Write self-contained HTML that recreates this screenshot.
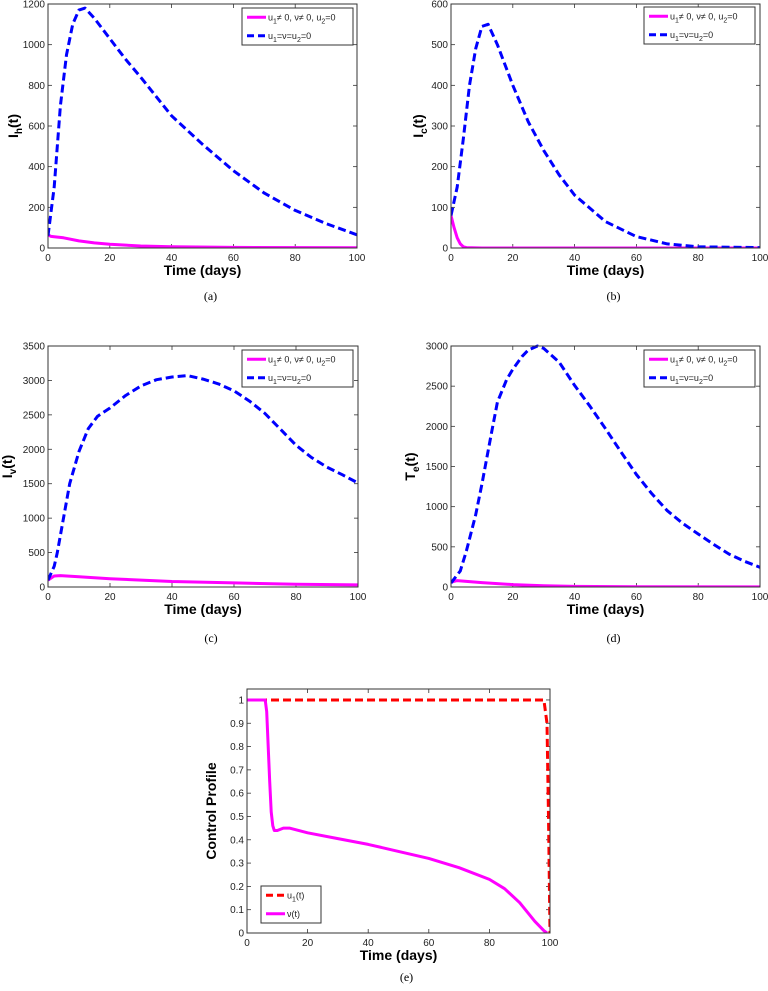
<!DOCTYPE html>
<html><head><meta charset="utf-8"><style>
html,body{margin:0;padding:0;background:#fff;}
svg{display:block;font-family:"Liberation Sans",sans-serif;}
</style></head><body>
<svg id="fig" width="768" height="991" viewBox="0 0 768 991" xmlns="http://www.w3.org/2000/svg"></svg>
<script>
// ---- data ----
const aBlueT=[0,2,4,6,8,10,12,15,20,25,30,40,50,60,70,80,90,100];
const aBlueV=[60,300,700,950,1100,1170,1180,1130,1030,930,840,650,510,380,270,185,120,65];
const aMagT=[0,1,2,5,10,15,20,30,40,60,100];
const aMagV=[65,57,55,50,35,25,18,10,6,3,1];
const bBlueT=[0,2,4,6,8,10,12,15,20,25,30,35,40,50,60,70,80,90,100];
const bBlueV=[80,150,270,400,490,545,550,500,400,310,240,180,130,65,28,10,3,2,1];
const bMagT=[0,1,2,3,4,5,10,100];
const bMagV=[80,50,25,10,3,1,0,0];
const cBlueT=[0,2,3,5,7,10,13,16,20,25,30,35,40,45,50,55,60,65,70,75,80,85,90,95,100];
const cBlueV=[100,300,500,1000,1500,1970,2300,2480,2600,2780,2920,3010,3050,3070,3020,2950,2850,2700,2520,2290,2060,1880,1740,1630,1510];
const cMagT=[0,2,4,10,20,30,40,60,80,100];
const cMagV=[100,160,165,150,120,100,80,60,40,30];
const dBlueT=[0,3,5,8,10,13,15,18,20,23,25,28,30,35,40,45,50,55,60,65,70,75,80,85,90,95,100];
const dBlueV=[50,200,450,900,1280,1900,2300,2580,2710,2870,2950,3000,2970,2800,2510,2250,1970,1680,1400,1160,950,790,660,530,410,320,245];
const dMagT=[0,2,5,10,20,30,40,60,100];
const dMagV=[60,80,70,55,30,15,8,3,1];
const eVT=[0,6,6.5,7,7.5,8,8.5,9,10,12,14,20,30,40,50,60,70,80,85,90,95,98,99];
const eVV=[1,1,0.95,0.8,0.65,0.52,0.46,0.44,0.44,0.45,0.45,0.43,0.405,0.38,0.35,0.32,0.28,0.23,0.19,0.13,0.05,0.01,0];
const eUT=[0,98,99,99.5,100];
const eUV=[1,1,0.9,0.5,0];
const xTicks=[0,20,40,60,80,100];
const aYTicks=[0,200,400,600,800,1000,1200];
const bYTicks=[0,100,200,300,400,500,600];
const cYTicks=[0,500,1000,1500,2000,2500,3000,3500];
const dYTicks=[0,500,1000,1500,2000,2500,3000];
const eYTicks=[0,0.1,0.2,0.3,0.4,0.5,0.6,0.7,0.8,0.9,1];
const eYLabels=["0","0.1","0.2","0.3","0.4","0.5","0.6","0.7","0.8","0.9","1"];

const NS="http://www.w3.org/2000/svg";
const svg=document.getElementById('fig');
function mk(tag,attrs,parent){const e=document.createElementNS(NS,tag);for(const k in attrs)e.setAttribute(k,attrs[k]);(parent||svg).appendChild(e);return e;}

function panel(p){
  const g=mk('g',{});
  
  
  const sx=t=>p.x0+(t-p.xmin)/(p.xmax-p.xmin)*(p.x1-p.x0);
  const sy=v=>p.y1-(v-p.ymin)/(p.ymax-p.ymin)*(p.y1-p.y0);
  // ticks
  xTicks.forEach(t=>{
    const X=sx(t);
    mk('line',{x1:X,x2:X,y1:p.y1,y2:p.y1-4,stroke:'#333','stroke-width':0.8},g);
    mk('line',{x1:X,x2:X,y1:p.y0,y2:p.y0+4,stroke:'#333','stroke-width':0.8},g);
    const tx=mk('text',{x:X,y:p.y1+13,'font-size':10,'text-anchor':'middle',fill:'#222'},g);
    tx.textContent=t;
    
    
  });
  p.yTicks.forEach((v,i)=>{
    const Y=sy(v);
    mk('line',{x1:p.x0,x2:p.x0+4,y1:Y,y2:Y,stroke:'#333','stroke-width':0.8},g);
    mk('line',{x1:p.x1,x2:p.x1-4,y1:Y,y2:Y,stroke:'#333','stroke-width':0.8},g);
    const tx=mk('text',{x:p.x0-3,y:Y+3.5,'font-size':10,'text-anchor':'end',fill:'#222'},g);
    tx.textContent=p.yLabels?p.yLabels[i]:v;
    
    
  });
  // clip
  const cid='clip'+p.name;
  const cp=mk('clipPath',{id:cid},g);mk('rect',{x:p.x0,y:p.y0-2,width:p.x1-p.x0,height:p.y1-p.y0+2},cp);
  p.series.forEach(s=>{
    const d=s.t.map((t,i)=>(i?'L':'M')+sx(t).toFixed(1)+','+sy(s.v[i]).toFixed(1)).join('');
    const path=mk('path',{d:d,fill:'none',stroke:s.color,'stroke-width':3,'stroke-dasharray':s.dash||'none','clip-path':'url(#'+cid+')','stroke-linejoin':'round'},g);
    
    
  });
  const fr=mk('rect',{x:p.x0,y:p.y0,width:p.x1-p.x0,height:p.y1-p.y0,fill:'none',stroke:'#333','stroke-width':1},g);
  
  
  // x title
  const xt=mk('text',{x:(p.x0+p.x1)/2,y:p.y1+27,'font-size':14,'font-weight':'bold','text-anchor':'middle',fill:'#000'},g);
  xt.textContent='Time (days)';
  
  
  const yt=mk('text',{x:0,y:0,'font-size':14,'font-weight':'bold','text-anchor':'middle',fill:'#000',transform:`translate(${p.yTitleX},${(p.y0+p.y1)/2}) rotate(-90)`},g);
  yt.innerHTML=p.yTitle;
  
  
  const cap=mk('text',{x:(p.x0+p.x1)/2+8,y:p.capY,'font-size':12,'text-anchor':'middle','font-family':'Liberation Serif, serif',fill:'#000'},g);
  cap.textContent=p.caption;
  
  
  // legend
  const L=p.legend;
  const lg=mk('g',{},g);
  
  
  mk('rect',{x:L.x,y:L.y,width:L.w,height:L.h,fill:'#fff',stroke:'#333','stroke-width':1},lg);
  L.items.forEach((it,i)=>{
    const Y=L.y+L.h*(i+0.5)/L.items.length;
    mk('line',{x1:L.x+5,x2:L.x+24,y1:Y,y2:Y,stroke:it.color,'stroke-width':3,'stroke-dasharray':it.dash||'none'},lg);
    const tx=mk('text',{x:L.x+26,y:Y+3,'font-size':9,fill:'#222'},lg);
    tx.innerHTML=it.label;
    
    
  });
}
const L1='u<tspan font-size="7" dy="3">1</tspan><tspan dy="-3">≠ 0, ν≠ 0, u</tspan><tspan font-size="7" dy="3">2</tspan><tspan dy="-3">=0</tspan>';
const L2='u<tspan font-size="7" dy="3">1</tspan><tspan dy="-3">=ν=u</tspan><tspan font-size="7" dy="3">2</tspan><tspan dy="-3">=0</tspan>';
function leg(x,y){return {x:x,y:y,w:111,h:37,items:[{color:'#ff00ff',label:L1},{color:'#0000ff',dash:'7 4',label:L2}]};}
function ytitle(a,b){return a+'<tspan font-size="10" dy="4">'+b+'</tspan><tspan dy="-4">(t)</tspan>';}

panel({name:'panel-a',x0:48,x1:357,y0:4,y1:248,xmin:0,xmax:100,ymin:0,ymax:1200,yTicks:aYTicks,yTitle:ytitle('I','h'),yTitleX:18,caption:'(a)',capY:300,legend:leg(242,8),
 series:[{name:'magenta-line-a',t:aMagT,v:aMagV,color:'#ff00ff'},{name:'blue-dashed-a',t:aBlueT,v:aBlueV,color:'#0000ff',dash:'8 4'}]});
panel({name:'panel-b',x0:451,x1:760,y0:4,y1:248,xmin:0,xmax:100,ymin:0,ymax:600,yTicks:bYTicks,yTitle:ytitle('I','c'),yTitleX:423,caption:'(b)',capY:300,legend:leg(644,7),
 series:[{name:'magenta-line-b',t:bMagT,v:bMagV,color:'#ff00ff'},{name:'blue-dashed-b',t:bBlueT,v:bBlueV,color:'#0000ff',dash:'8 4'}]});
panel({name:'panel-c',x0:48,x1:358,y0:346,y1:587,xmin:0,xmax:100,ymin:0,ymax:3500,yTicks:cYTicks,yTitle:ytitle('I','v'),yTitleX:12,caption:'(c)',capY:642,legend:leg(242,350),
 series:[{name:'magenta-line-c',t:cMagT,v:cMagV,color:'#ff00ff'},{name:'blue-dashed-c',t:cBlueT,v:cBlueV,color:'#0000ff',dash:'8 4'}]});
panel({name:'panel-d',x0:451,x1:760,y0:346,y1:587,xmin:0,xmax:100,ymin:0,ymax:3000,yTicks:dYTicks,yTitle:ytitle('T','e'),yTitleX:415,caption:'(d)',capY:642,legend:leg(644,350),
 series:[{name:'magenta-line-d',t:dMagT,v:dMagV,color:'#ff00ff'},{name:'blue-dashed-d',t:dBlueT,v:dBlueV,color:'#0000ff',dash:'8 4'}]});
panel({name:'panel-e',x0:247,x1:550,y0:689,y1:933,xmin:0,xmax:100,ymin:0,ymax:1.047,yTicks:eYTicks,yLabels:eYLabels,yTitle:'Control Profile',yTitleX:216,caption:'(e)',capY:981,
 legend:{x:261,y:886,w:60,h:37,items:[{color:'#ff0000',dash:'7 4',label:'u<tspan font-size="7" dy="3">1</tspan><tspan dy="-3">(t)</tspan>'},{color:'#ff00ff',label:'ν(t)'}]},
 series:[{name:'u1-dashed-e',t:eUT,v:eUV,color:'#ff0000',dash:'8 4'},{name:'v-line-e',t:eVT,v:eVV,color:'#ff00ff'}]});
</script>
</body></html>
